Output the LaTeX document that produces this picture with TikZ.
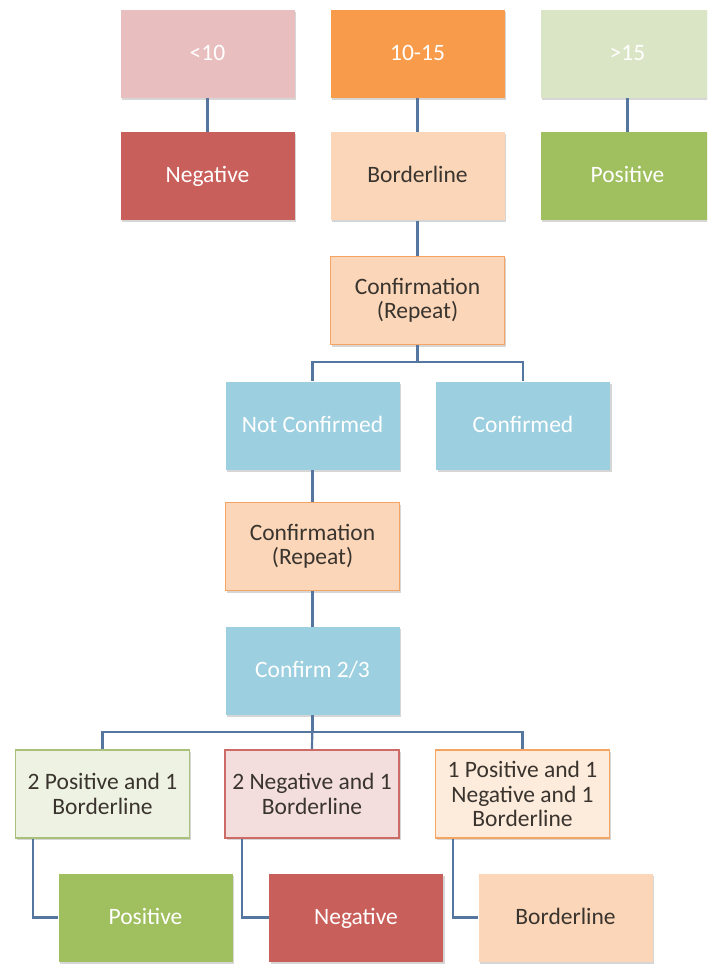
\documentclass[tikz,border=0pt]{standalone}
\usepackage{fontspec}
\setmainfont{Carlito}
\usetikzlibrary{shadows}

% Palette
\definecolor{pinkL}{HTML}{E8BFBE}
\definecolor{redD}{HTML}{C95F5A}
\definecolor{orangeD}{HTML}{F89B4B}
\definecolor{peach}{HTML}{FBD6B8}
\definecolor{greenL}{HTML}{DAE5C5}
\definecolor{greenD}{HTML}{A0BF5F}
\definecolor{blueL}{HTML}{9CCFE0}
\definecolor{peachEdge}{HTML}{F5A462}
\definecolor{greenPale}{HTML}{EEF2E2}
\definecolor{greenEdge}{HTML}{A8C07A}
\definecolor{pinkPale}{HTML}{F3DEDD}
\definecolor{redEdge}{HTML}{CD6B67}
\definecolor{peachPale}{HTML}{FDEBDC}
\definecolor{linkBlue}{HTML}{55779F}
\definecolor{darkText}{HTML}{3A342E}

\tikzset{
  box/.style={rectangle, minimum width=174pt, minimum height=88pt,
    inner sep=2pt, align=center, font=\fontsize{23.5}{24.5}\selectfont,
    drop shadow={shadow xshift=1.5pt, shadow yshift=-2pt, fill=black, opacity=0.16}},
  oneline/.style={text height=17pt, text depth=4pt},
  solidbox/.style={box, oneline, fill=#1, text=white},
  lightbox/.style={box, oneline, fill=#1, text=darkText},
  edgebox/.style 2 args={box, fill=#1, draw=#2, line width=1.6pt, text=darkText},
  link/.style={draw=linkBlue, line width=2.2pt}
}

\begin{document}
\begin{tikzpicture}[x=1pt, y=-1pt]
  \useasboundingbox (0,0) rectangle (707,965);
  \clip (0,0) rectangle (707,965);
  \fill[white] (0,0) rectangle (707,965);

  % Score ranges and first readings
  \node[solidbox=pinkL]   (lt10)  at (207.5,54)   {<10};
  \node[solidbox=orangeD] (mid)   at (417.5,54)   {10-15};
  \node[solidbox=greenL]  (gt15)  at (627.5,54)   {>15};
  \node[solidbox=redD]    (neg1)  at (207.5,176.5) {Negative};
  \node[lightbox=peach]   (bord1) at (417.5,176.5) {Borderline};
  \node[solidbox=greenD]  (pos1)  at (627.5,176.5) {Positive};

  % First repeat
  \node[edgebox={peach}{peachEdge}] (rep1) at (417.5,300.5) {Confirmation\\(Repeat)};
  \node[solidbox=blueL] (notc) at (312.5,425.5) {Not Confirmed};
  \node[solidbox=blueL] (conf) at (523,425.5)   {Confirmed};

  % Second repeat
  \node[edgebox={peach}{peachEdge}] (rep2) at (312.5,546.5) {Confirmation\\(Repeat)};
  \node[solidbox=blueL] (c23) at (312.5,671) {Confirm 2/3};

  % Combined outcomes
  \node[edgebox={greenPale}{greenEdge}] (pp) at (102.5,794) {2 Positive and 1\\Borderline};
  \node[edgebox={pinkPale}{redEdge}]    (nn) at (312,794)   {2 Negative and 1\\Borderline};
  \node[edgebox={peachPale}{peachEdge}] (pn) at (522.5,794) {1 Positive and 1\\Negative and 1\\Borderline};

  % Final results
  \node[solidbox=greenD] (posF)  at (145.5,917.5) {Positive};
  \node[solidbox=redD]   (negF)  at (356,917.5)   {Negative};
  \node[lightbox=peach]  (bordF) at (565.5,917.5) {Borderline};

  % Connectors
  \draw[link] (lt10.south) -- (neg1.north);
  \draw[link] (mid.south)  -- (bord1.north);
  \draw[link] (gt15.south) -- (pos1.north);
  \draw[link] (bord1.south) -- (rep1.north);
  \draw[link] (rep1.south) -- ++(0,17) -| (notc.north);
  \draw[link] (rep1.south) -- ++(0,17) -| (conf.north);
  \draw[link] (notc.south) -- (rep2.north);
  \draw[link] (rep2.south) -- (c23.north);
  \draw[link] (c23.south) -- ++(0,17) -| (pp.north);
  \draw[link] (c23.south) -- ++(0,17) -| (pn.north);
  \draw[link] (c23.south) -- (nn.north);
  \draw[link] ([xshift=18pt]pp.south west) |- (posF.west);
  \draw[link] ([xshift=18pt]nn.south west) |- (negF.west);
  \draw[link] ([xshift=18pt]pn.south west) |- (bordF.west);
\end{tikzpicture}
\end{document}
